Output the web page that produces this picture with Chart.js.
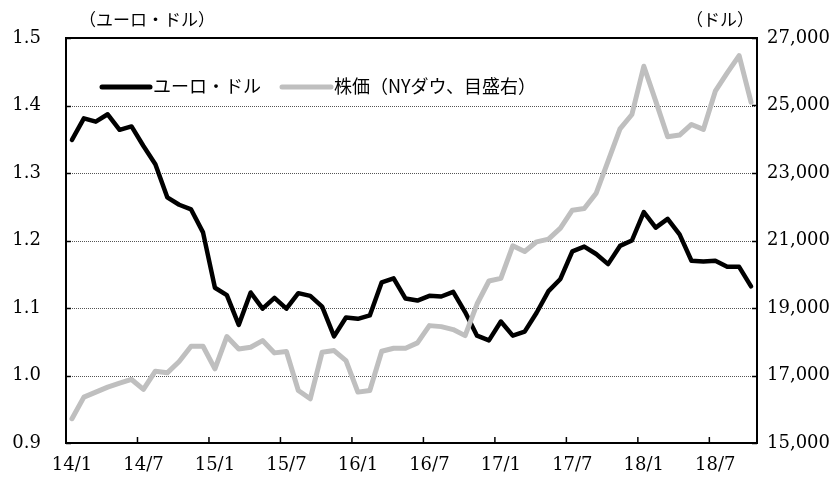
<!DOCTYPE html>
<html><head><meta charset="utf-8">
<script src="https://cdn.jsdelivr.net/npm/chart.js@4/dist/chart.umd.min.js"></script>
<style>html,body{margin:0;padding:0;background:#fff;}</style>
</head><body>
<canvas id="c" width="839" height="481"></canvas>
<script>
const categories = [
 '14/1','14/2','14/3','14/4','14/5','14/6','14/7','14/8','14/9','14/10','14/11','14/12',
 '15/1','15/2','15/3','15/4','15/5','15/6','15/7','15/8','15/9','15/10','15/11','15/12',
 '16/1','16/2','16/3','16/4','16/5','16/6','16/7','16/8','16/9','16/10','16/11','16/12',
 '17/1','17/2','17/3','17/4','17/5','17/6','17/7','17/8','17/9','17/10','17/11','17/12',
 '18/1','18/2','18/3','18/4','18/5','18/6','18/7','18/8','18/9','18/10'
];
const euroDollar = [
 1.349,1.381,1.376,1.387,1.364,1.369,1.340,1.313,1.264,1.253,1.246,1.212,
 1.130,1.119,1.075,1.123,1.099,1.115,1.099,1.122,1.118,1.102,1.058,1.086,
 1.084,1.089,1.138,1.144,1.114,1.111,1.118,1.117,1.124,1.094,1.059,1.052,
 1.080,1.059,1.065,1.093,1.125,1.143,1.184,1.191,1.180,1.165,1.192,1.200,
 1.242,1.219,1.232,1.209,1.170,1.169,1.170,1.161,1.161,1.132
];
const dowJones = [
 15719,16360,16507,16655,16773,16882,16587,17128,17079,17414,17867,17867,
 17197,18153,17788,17837,18034,17670,17709,16557,16310,17690,17739,17443,
 16508,16557,17719,17808,17808,17966,18478,18448,18360,18182,19118,19800,
 19877,20843,20675,20961,21040,21365,21897,21946,22400,23355,24310,24734,
 26163,25128,24074,24123,24438,24291,25424,25965,26478,25099
];
const seriesNames = ['ユーロ・ドル', '株価（NYダウ、目盛右）'];
const leftUnit = '（ユーロ・ドル）';
const rightUnit = '（ドル）';
const leftRange = [0.9, 1.5, 0.1];
const rightRange = [15000, 27000, 2000];
const xLabelEvery = 6;

const NUM_FONT = {family: "'DejaVu Serif', 'Liberation Serif', serif", size: 18};
const LEGEND_FONT = "18px 'Noto Sans CJK JP', sans-serif";
const UNIT_FONT = "17px 'Noto Sans CJK JP', sans-serif";
const EURO_COLOR = '#000000';
const DOW_COLOR = '#bfbfbf';

const decorPlugin = {
  id: 'decor',
  beforeDraw(chart) {
    const ctx = chart.ctx;
    ctx.save(); ctx.fillStyle = '#fff'; ctx.fillRect(0, 0, chart.width, chart.height); ctx.restore();
  },
  beforeDatasetsDraw(chart) {
    const {ctx, chartArea: a, scales: {y}} = chart;
    ctx.save();
    ctx.strokeStyle = '#555';
    ctx.lineWidth = 1;
    ctx.setLineDash([1, 1]);
    y.ticks.forEach(t => {
      if (t.value <= y.min + 1e-9 || t.value >= y.max - 1e-9) return;
      const py = Math.round(y.getPixelForValue(t.value)) + 0.5;
      ctx.beginPath(); ctx.moveTo(a.left, py); ctx.lineTo(a.right, py); ctx.stroke();
    });
    ctx.restore();
  },
  afterDatasetsDraw(chart) {
    const {ctx, chartArea: a, scales: {x, y, y2}} = chart;
    ctx.save();
    ctx.strokeStyle = '#000';
    ctx.lineWidth = 2;
    ctx.beginPath();
    ctx.rect(a.left, a.top, a.right - a.left, a.bottom - a.top);
    ctx.stroke();
    ctx.lineWidth = 1.5;
    y.ticks.forEach(t => {
      const py = Math.round(y.getPixelForValue(t.value)) + 0.5;
      ctx.beginPath(); ctx.moveTo(a.left, py); ctx.lineTo(a.left + 5, py); ctx.stroke();
    });
    y2.ticks.forEach(t => {
      const py = Math.round(y2.getPixelForValue(t.value)) + 0.5;
      ctx.beginPath(); ctx.moveTo(a.right - 5, py); ctx.lineTo(a.right, py); ctx.stroke();
    });
    for (let i = 0; i < categories.length; i += xLabelEvery) {
      const px = i === 0 ? a.left : (x.getPixelForValue(i - 1) + x.getPixelForValue(i)) / 2;
      ctx.beginPath(); ctx.moveTo(px, a.bottom); ctx.lineTo(px, a.bottom - 6); ctx.stroke();
    }
    // legend
    const ly = 87;
    ctx.lineCap = 'round';
    ctx.lineWidth = 5;
    ctx.strokeStyle = EURO_COLOR;
    ctx.beginPath(); ctx.moveTo(102, ly); ctx.lineTo(150, ly); ctx.stroke();
    ctx.strokeStyle = DOW_COLOR;
    ctx.beginPath(); ctx.moveTo(282, ly); ctx.lineTo(331, ly); ctx.stroke();
    ctx.fillStyle = '#000';
    ctx.font = LEGEND_FONT;
    ctx.textBaseline = 'middle';
    ctx.textAlign = 'left';
    ctx.fillText(seriesNames[0], 153, ly - 1);
    ctx.fillText(seriesNames[1], 334, ly - 1);
    // unit labels
    ctx.font = UNIT_FONT;
    ctx.textAlign = 'center';
    ctx.fillText(leftUnit, 147, 20);
    ctx.fillText(rightUnit, 720, 20);
    ctx.restore();
  }
};

new Chart(document.getElementById('c'), {
  type: 'line',
  data: {
    labels: categories,
    datasets: [
      {label: seriesNames[0], data: euroDollar, yAxisID: 'y', borderColor: EURO_COLOR, backgroundColor: EURO_COLOR,
       borderWidth: 4.5, pointRadius: 0, tension: 0, borderJoinStyle: 'round', borderCapStyle: 'round', order: 1},
      {label: seriesNames[1], data: dowJones, yAxisID: 'y2', borderColor: DOW_COLOR, backgroundColor: DOW_COLOR,
       borderWidth: 5, pointRadius: 0, tension: 0, borderJoinStyle: 'round', borderCapStyle: 'round', order: 0}
    ]
  },
  options: {
    responsive: false,
    animation: false,
    devicePixelRatio: 1,
    layout: {padding: {top: 38, left: 0, right: 0, bottom: 0}},
    plugins: {legend: {display: false}, tooltip: {enabled: false}},
    events: [],
    scales: {
      x: {
        type: 'category', offset: true,
        grid: {display: false, drawTicks: false},
        border: {display: false},
        ticks: {
          autoSkip: false, maxRotation: 0, minRotation: 0, padding: 12,
          color: '#000', font: NUM_FONT,
          callback: (v, i) => (i % xLabelEvery === 0 ? categories[i] : '')
        },
        afterFit: s => { s.height = 38; }
      },
      y: {
        position: 'left', min: leftRange[0], max: leftRange[1],
        grid: {display: false, drawTicks: false},
        border: {display: false},
        ticks: {stepSize: leftRange[2], padding: 25, color: '#000', font: NUM_FONT,
          callback: v => Number(v).toFixed(1)},
        afterFit: s => { s.width = 66; }
      },
      y2: {
        position: 'right', min: rightRange[0], max: rightRange[1],
        grid: {display: false, drawTicks: false},
        border: {display: false},
        ticks: {stepSize: rightRange[2], padding: 10, color: '#000', font: NUM_FONT,
          callback: v => Number(v).toLocaleString('en-US')},
        afterFit: s => { s.width = 82; }
      }
    }
  },
  plugins: [decorPlugin]
});
</script>
</body></html>
